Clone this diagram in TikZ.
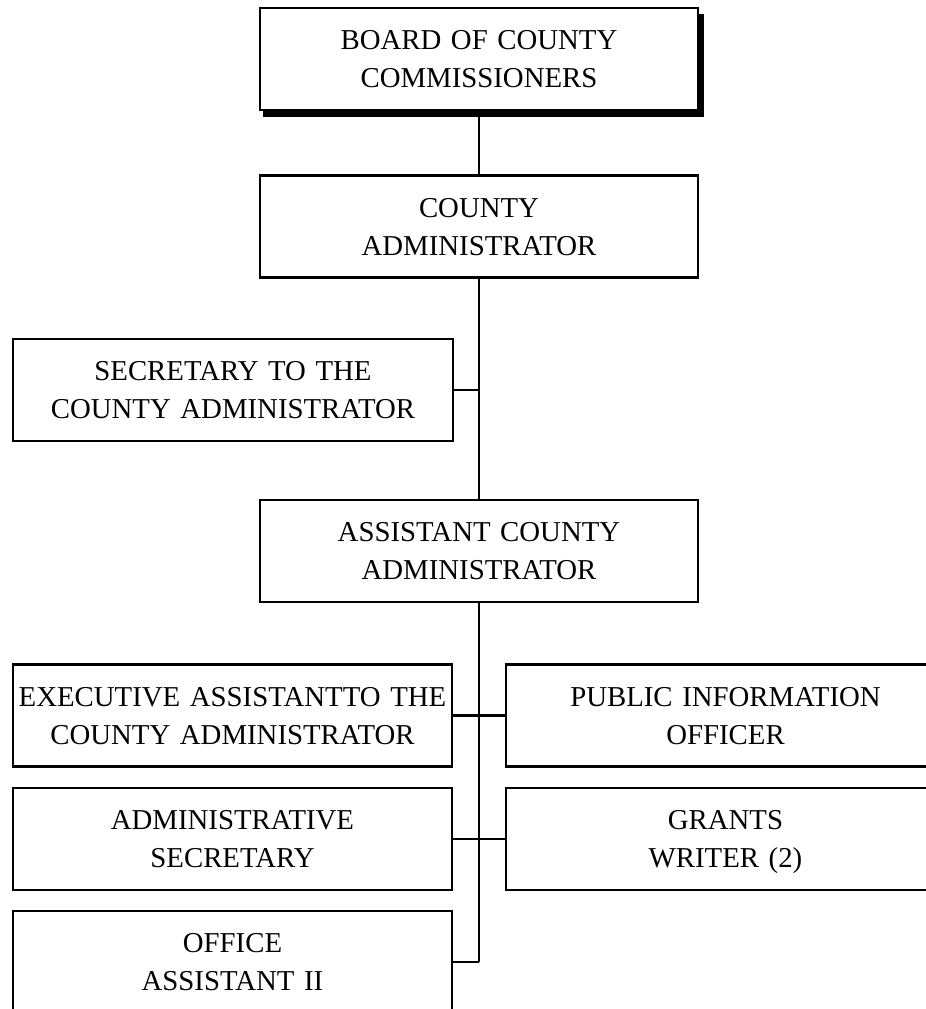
\documentclass[tikz,border=0pt]{standalone}
\usepackage{fontspec}
\setmainfont{Liberation Serif}
% balanced strut: equal room above the capitals and below the baseline
\newcommand\capstrut{\rule[-8pt]{0pt}{35pt}}
\newcommand\twoline[2]{\capstrut#1\\#2\capstrut}
\begin{document}
\begin{tikzpicture}[x=1pt,y=-1pt,
  unit/.style={draw=black, line width=2.3pt, fill=white, rectangle,
    minimum width=438pt, minimum height=102pt, inner sep=0pt,
    text width=430pt, align=center,
    font=\fontsize{28.8}{38}\selectfont},
  link/.style={draw=black, line width=2.8pt}]
\useasboundingbox (0,0) rectangle (926,1009);
\clip (0,0) rectangle (926,1009);
\fill[white] (0,0) rectangle (926,1009);

% drop shadow behind the top box
\fill[black] (263,14) -- (703.5,14) -- (703.5,117) -- (263,117) -- cycle;

% units
\node[unit] (board)  at (479,59)    {\twoline{BOARD OF COUNTY}{COMMISSIONERS}};
\node[unit] (cadmin) at (479,226.5) {\twoline{COUNTY}{ADMINISTRATOR}};
\node[unit, minimum width=440pt] (sec) at (233,390) {\twoline{SECRETARY TO THE}{COUNTY ADMINISTRATOR}};
\node[unit] (asst)   at (479,551)   {\twoline{ASSISTANT COUNTY}{ADMINISTRATOR}};
\node[unit, minimum width=439pt] (exec)   at (232.5,715.5) {\twoline{EXECUTIVE ASSISTANTTO THE}{COUNTY ADMINISTRATOR}};
\node[unit, minimum width=439pt] (pio)    at (725.5,715.5) {\twoline{PUBLIC INFORMATION}{OFFICER}};
\node[unit, minimum width=439pt] (adsec)  at (232.5,839)   {\twoline{ADMINISTRATIVE}{SECRETARY}};
\node[unit, minimum width=439pt] (grants) at (725.5,839)   {\twoline{GRANTS}{WRITER (2)}};
\node[unit, minimum width=439pt] (office) at (232.5,962)   {\twoline{OFFICE}{ASSISTANT II}};

% reporting lines
\coordinate (spine) at (asst.south |- office.east);
\draw[link] (board.south) -- (cadmin.north);
\draw[link] (cadmin.south) -- (asst.north);
\draw[link] (sec.east) -- (sec.east -| cadmin.south);
\draw[link] (asst.south) -- (spine);
\draw[link] (exec.east) -- (pio.west);
\draw[link] (adsec.east) -- (grants.west);
\draw[link] (office.east) -- (spine);
\end{tikzpicture}
\end{document}
